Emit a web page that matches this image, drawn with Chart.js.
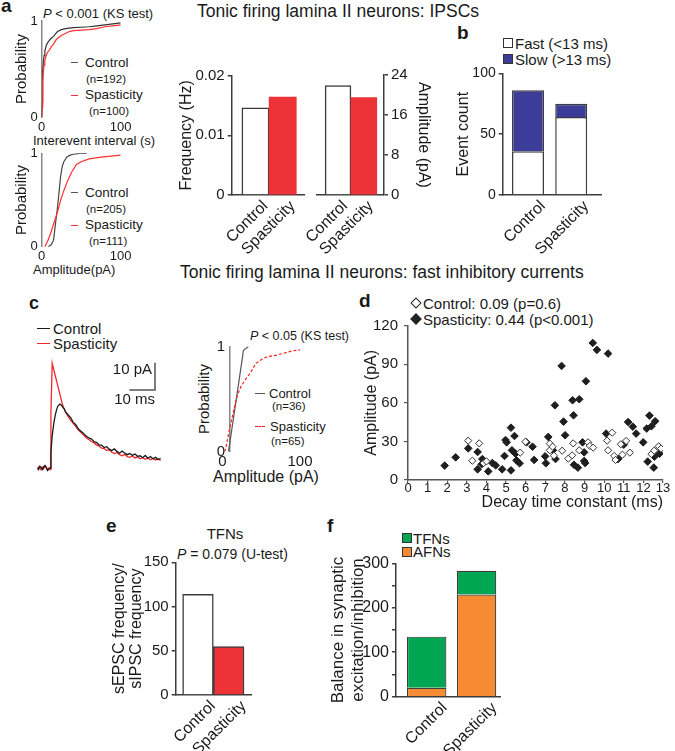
<!DOCTYPE html>
<html>
<head>
<meta charset="utf-8">
<script src="https://cdn.jsdelivr.net/npm/chart.js@4.4.1/dist/chart.umd.min.js"></script>
<style>
html, body { margin: 0; padding: 0; background: #fff; }
#fig { position: relative; width: 675px; height: 751px; overflow: hidden; font-family: 'Liberation Sans', Arial, sans-serif; color: #1a1a1a; }
#fig canvas { position: absolute; left: 0; top: 0; }
.t { position: absolute; white-space: nowrap; line-height: 1; transform: translateY(-50%); }
.c { transform: translate(-50%, -50%); }
.k { font-weight: bold; font-size: 19px; }
.dash { position: absolute; height: 0; border-top: 1.5px solid; }
.sq { position: absolute; width: 8px; height: 8px; border: 1px solid #333; }
.dm { position: absolute; width: 6px; height: 6px; border: 1px solid #222; transform: rotate(45deg); }
</style>
</head>
<body>
<div id="fig">
  <!-- panel a -->
  <div class="t k" style="left:1px;top:5px">a</div>
  <div class="t" style="left:43px;top:12.5px;font-size:13px"><i>P</i> &lt; 0.001 (KS test)</div>
  <div class="dash" style="left:71px;top:62px;width:7px;border-color:#555"></div>
  <div class="t" style="left:85px;top:62.5px;font-size:13.5px">Control</div>
  <div class="t" style="left:86px;top:79.5px;font-size:11.5px">(n=192)</div>
  <div class="dash" style="left:71px;top:94.5px;width:7px;border-color:#ff3030"></div>
  <div class="t" style="left:85px;top:94.7px;font-size:13.5px">Spasticity</div>
  <div class="t" style="left:89px;top:111.7px;font-size:11.5px">(n=100)</div>
  <div class="t" style="left:33px;top:139.5px;font-size:13px">Interevent interval (s)</div>
  <div class="dash" style="left:71px;top:192px;width:7px;border-color:#555"></div>
  <div class="t" style="left:85px;top:192.5px;font-size:13.5px">Control</div>
  <div class="t" style="left:86px;top:209.5px;font-size:11.5px">(n=205)</div>
  <div class="dash" style="left:71px;top:224.5px;width:7px;border-color:#ff3030"></div>
  <div class="t" style="left:85px;top:224.7px;font-size:13.5px">Spasticity</div>
  <div class="t" style="left:89px;top:241.7px;font-size:11.5px">(n=111)</div>
  <div class="t" style="left:33px;top:269px;font-size:13px">Amplitude(pA)</div>
  <div class="t c" style="left:338px;top:12px;font-size:17.5px">Tonic firing lamina II neurons: IPSCs</div>

  <!-- panel b -->
  <div class="t k" style="left:457px;top:32px">b</div>
  <div class="sq" style="left:503px;top:38px;background:#fff"></div>
  <div class="t" style="left:515px;top:43px;font-size:15px">Fast (&lt;13 ms)</div>
  <div class="sq" style="left:503px;top:54px;background:#3b3d98"></div>
  <div class="t" style="left:515px;top:59px;font-size:15px">Slow (&gt;13 ms)</div>

  <div class="t" style="left:180px;top:273px;font-size:17.5px">Tonic firing lamina II neurons: fast inhibitory currents</div>

  <!-- panel c -->
  <div class="t k" style="left:29px;top:302.6px;font-size:18px">c</div>
  <div class="dash" style="left:37px;top:327.5px;width:13px;border-color:#1a1a1a"></div>
  <div class="t" style="left:53px;top:328px;font-size:15px">Control</div>
  <div class="dash" style="left:37px;top:342.5px;width:13px;border-color:#f0282d"></div>
  <div class="t" style="left:53px;top:343px;font-size:15px">Spasticity</div>
  <div class="t" style="left:250px;top:336px;font-size:12.5px"><i>P</i> &lt; 0.05 (KS test)</div>
  <div class="t c" style="left:203px;top:399px;font-size:15px;transform:translate(-50%,-50%) rotate(-90deg)">Probability</div>
  <div class="dash" style="left:255px;top:392.5px;width:10px;border-color:#555"></div>
  <div class="t" style="left:269px;top:393px;font-size:13px">Control</div>
  <div class="t" style="left:272px;top:407px;font-size:11.5px">(n=36)</div>
  <div class="dash" style="left:255px;top:425.5px;width:10px;border-color:#ff2020;border-top-style:dashed"></div>
  <div class="t" style="left:270px;top:426px;font-size:13px">Spasticity</div>
  <div class="t" style="left:271px;top:442px;font-size:11.5px">(n=65)</div>
  <div class="t c" style="left:266px;top:477px;font-size:16px">Amplitude (pA)</div>

  <!-- panel d -->
  <div class="t k" style="left:359px;top:300px">d</div>
  <div class="dm" style="left:412px;top:299px;background:#fff"></div>
  <div class="t" style="left:423px;top:303px;font-size:15px">Control: 0.09 (p=0.6)</div>
  <div class="dm" style="left:412px;top:315px;background:#222"></div>
  <div class="t" style="left:423px;top:319px;font-size:15px">Spasticity: 0.44 (p&lt;0.001)</div>

  <!-- panel e -->
  <div class="t k" style="left:106px;top:525px">e</div>
  <div class="t c" style="left:225px;top:533px;font-size:15px">TFNs</div>
  <div class="t" style="left:177px;top:554px;font-size:14px"><i>P</i> = 0.079 (U-test)</div>

  <!-- panel f -->
  <div class="t k" style="left:327px;top:525px">f</div>
  <div class="sq" style="left:402px;top:533px;background:#00a651"></div>
  <div class="t" style="left:413px;top:537.7px;font-size:15px">TFNs</div>
  <div class="sq" style="left:402px;top:546.5px;background:#f68b33"></div>
  <div class="t" style="left:413px;top:551px;font-size:15px">AFNs</div>
</div>

<script>
const W = 675, H = 751;
const groups = ['Control', 'Spasticity'];

// a: cumulative probability, interevent interval (s)
const ieiX = [0, 0.5, 1, 1.5, 2, 3, 4, 5, 6, 8, 10, 12, 15, 18, 20, 25, 30, 35, 40, 50, 60, 70, 80, 90, 100];
const ieiCtrlP = [0, 0.15, 0.33, 0.47, 0.56, 0.64, 0.69, 0.72, 0.75, 0.78, 0.8, 0.82, 0.84, 0.87, 0.89, 0.91, 0.92, 0.925, 0.93, 0.935, 0.94, 0.95, 0.96, 0.97, 0.98];
const ieiSpastP = [0, 0.1, 0.25, 0.37, 0.46, 0.54, 0.59, 0.62, 0.65, 0.68, 0.7, 0.73, 0.76, 0.8, 0.82, 0.85, 0.87, 0.89, 0.9, 0.905, 0.91, 0.92, 0.94, 0.95, 0.96];

// a: cumulative probability, amplitude (pA)
const ampCtrlX = [8, 12, 15, 17.5, 19.6, 21.8, 23.9, 26, 28, 32, 36, 40, 48, 57];
const ampCtrlP = [0, 0.02, 0.07, 0.25, 0.39, 0.57, 0.75, 0.86, 0.91, 0.96, 0.98, 0.99, 1, 1];
const ampSpastX = [4, 8, 12, 16, 20, 24, 28, 33, 38, 44, 50, 60, 75, 100];
const ampSpastP = [0, 0.07, 0.16, 0.27, 0.37, 0.5, 0.6, 0.71, 0.8, 0.88, 0.91, 0.94, 0.96, 0.98];

// a: IPSC bars
const ipscFreq = [0.0146, 0.0164];
const ipscAmp = [21.9, 19.5];

// b: event counts
const fastCount = [36, 64];
const slowCount = [50, 11];

// c: averaged traces (ms, pA)
const traceT = [0, 0.5, 1, 1.5, 2, 2.5, 3, 3.5, 4, 4.5, 5, 5.3, 5.8, 6.5, 7, 7.5, 8, 8.8, 9.5, 10, 10.5, 11, 11.5, 12, 13, 14, 15, 16, 17, 18, 19, 20, 21, 22, 23, 24, 25, 26, 27, 28, 29, 30, 31, 32, 33, 34, 35, 36, 37, 38, 39, 40, 41, 42, 43, 44, 45, 46, 47, 48];
const traceCtrl = [0.2, -0.5, 0.8, 0.3, -0.4, 0.6, 1.0, 0.2, -0.8, -0.3, 0.2, 6, 12, 17, 19.5, 21.5, 22.8, 23.5, 23, 22.2, 21.8, 20.5, 20.2, 19.5, 18.6, 16.8, 16, 14.4, 13.6, 12.8, 11.8, 11.2, 10.8, 9.8, 9.5, 8.6, 8.5, 7.6, 7.9, 7.0, 6.5, 7.1, 6.2, 5.5, 6.3, 5.6, 5.0, 5.4, 4.8, 5.2, 4.4, 4.6, 3.9, 4.7, 3.7, 4.3, 3.5, 4.0, 3.2, 3.6];
const traceSpast = [-0.3, 0.5, 0.2, -0.6, 0.4, -0.2, 0.9, 0.5, -0.5, 0.1, -0.5, 20, 38.5, 35.8, 33.9, 32.0, 30.1, 27.1, 24.4, 22.8, 21.6, 20.8, 19.8, 19.0, 17.6, 16.5, 15.3, 14.0, 13.1, 12.2, 11.2, 10.6, 9.8, 9.4, 8.6, 8.2, 7.4, 7.2, 6.6, 6.8, 5.9, 5.4, 5.8, 5.0, 4.6, 5.1, 4.3, 4.0, 4.5, 3.8, 4.2, 3.5, 3.9, 3.3, 3.8, 3.1, 3.6, 3.0, 3.4, 2.9];
const barCorner = [45.8, 28.7];   // ms, pA
const barSize = [10, 10];         // ms, pA

// c: cumulative probability of fast currents
const fastCtrlX = [8, 10, 12, 14, 16, 18, 20, 22, 24, 26, 27, 28, 30, 33.5];
const fastCtrlP = [0, 0.1, 0.2, 0.3, 0.4, 0.5, 0.6, 0.7, 0.8, 0.9, 0.96, 0.97, 0.98, 1];
const fastSpastX = [3, 5, 8, 11, 14, 17, 20, 24, 29, 33, 36, 40, 43, 47, 51, 56, 62, 70, 80, 90, 100];
const fastSpastP = [0, 0.05, 0.17, 0.27, 0.37, 0.47, 0.55, 0.62, 0.68, 0.72, 0.75, 0.8, 0.84, 0.86, 0.88, 0.9, 0.91, 0.92, 0.94, 0.96, 0.97];

// d: decay time constant (ms) vs amplitude (pA)
const ctrlDecay = [3.07, 3.28, 3.63, 3.85, 4.0, 5.72, 5.99, 7.23, 7.23, 7.37, 7.44, 7.86, 8.17, 8.37, 8.42, 8.73, 9.18, 9.27, 9.44, 10.15, 10.2, 10.41, 10.51, 10.58, 10.85, 10.93, 11.12, 11.31, 12.41, 12.55, 12.78, 12.9];
const ctrlAmp = [30.6, 15.0, 28.5, 13.2, 14.5, 21.3, 29.8, 23.1, 28.3, 25.9, 18.9, 22.8, 16.6, 19.2, 28.5, 23.1, 29.3, 26.5, 25.2, 30.6, 23.1, 36.8, 18.7, 15.6, 27.8, 19.7, 30.4, 21.3, 20.2, 22.8, 26.2, 24.4];
const spastDecay = [1.87, 2.43, 3.07, 3.55, 3.55, 3.79, 3.75, 4.09, 4.3, 4.47, 4.8, 4.92, 4.97, 5.03, 5.25, 5.25, 5.3, 5.43, 5.48, 5.53, 5.69, 6.04, 6.35, 6.43, 6.99, 7.03, 7.15, 7.39, 7.52, 7.49, 7.83, 7.93, 8.01, 8.39, 8.44, 8.46, 8.66, 8.73, 8.9, 8.98, 8.98, 9.07, 9.03, 9.42, 9.63, 10.2, 10.1, 10.71, 11.0, 11.22, 11.46, 11.63, 11.99, 12.17, 12.22, 12.31, 12.41, 12.6, 12.56, 12.53, 12.82];
const spastAmp = [11.2, 17.6, 24.6, 21.8, 8.3, 16.3, 12.2, 6.7, 13.2, 11.4, 8.3, 18.7, 31.1, 29.3, 40.7, 7.5, 23.1, 34.2, 20.5, 15.3, 13.0, 29.3, 25.9, 15.6, 18.4, 13.0, 33.5, 23.1, 16.3, 58.1, 88.7, 45.4, 34.8, 62.0, 50.3, 11.9, 9.6, 62.8, 29.3, 21.5, 14.8, 76.8, 13.2, 106.6, 101.2, 98.3, 36.1, 16.3, 27.5, 45.1, 41.5, 36.1, 29.3, 40.0, 14.3, 50.1, 41.8, 45.7, 18.2, 9.6, 20.5];

// e: sEPSC / sIPSC frequency ratio (TFNs)
const ratioTFN = [113.8, 54.6];

// f: balance, stacked
const afnBalance = [20, 230];
const tfnBalance = [115, 53];

const RED = '#ee3338', BLUE = '#3b3d98', GREEN = '#00a651', ORANGE = '#f68b33';
const AX = '#3c3c3c', INK = '#1a1a1a';

Chart.defaults.font.family = "'Liberation Sans', Arial, sans-serif";
Chart.defaults.color = INK;
Chart.defaults.animation = false;
Chart.defaults.responsive = false;
Chart.defaults.plugins.legend.display = false;
Chart.defaults.plugins.tooltip.enabled = false;
Chart.defaults.elements.point.radius = 0;

const fig = document.getElementById('fig');
function addChart(cfg) {
  const cv = document.createElement('canvas');
  cv.width = W; cv.height = H;
  fig.appendChild(cv);
  return new Chart(cv, cfg);
}
function zeroPad(s) { s.paddingLeft = s.paddingRight = s.paddingTop = s.paddingBottom = 0; }
const fixW = w => s => { s.width = w; zeroPad(s); };
const fixH = h => s => { s.height = h; zeroPad(s); };
// layout padding so the plot area lands on l..r, t..b
function area(l, t, r, b, yW, xH, right) {
  return { padding: right
    ? { left: l, top: t, right: W - r - yW, bottom: H - b - xH }
    : { left: l - yW, top: t, right: W - r, bottom: H - b - xH } };
}
const font = (size, lh) => ({ size, lineHeight: lh || 1 });
const pts = (xs, ys) => xs.map((x, i) => ({ x, y: ys[i] }));
const pos = groups.map((g, i) => i + 1);
const noGrid = { display: false, drawTicks: false };

function cdfLine(xs, ys, color, dash) {
  return { data: pts(xs, ys), borderColor: color, borderWidth: 1.2, borderDash: dash || [], tension: 0 };
}

// ---- a: two cumulative plots
function cdfChart(l, t, r, b, sets) {
  addChart({
    type: 'line',
    data: { datasets: sets },
    options: {
      layout: area(l, t, r, b, 27.7, 30),
      scales: {
        x: { type: 'linear', min: 0, max: 100, afterFit: fixH(30),
             ticks: { stepSize: 100, font: font(13), padding: 3.5, maxRotation: 0 },
             grid: noGrid, border: { display: false } },
        y: { min: 0, max: 1, afterFit: fixW(27.7),
             ticks: { stepSize: 1, font: font(13), padding: 4 },
             grid: noGrid, border: { color: '#888', width: 1.5 },
             title: { display: true, text: 'Probability', font: font(15), padding: 0 } }
      }
    }
  });
}
cdfChart(41.7, 21, 120.7, 117, [cdfLine(ieiX, ieiSpastP, '#ff3030'), cdfLine(ieiX, ieiCtrlP, '#333')]);
cdfChart(41.7, 153.3, 120.7, 246.7, [cdfLine(ampSpastX, ampSpastP, '#ff3030'), cdfLine(ampCtrlX, ampCtrlP, '#444')]);

// ---- bar charts with Control / Spasticity along a linear x
function groupAxis(min, max, shift, stacked) {
  return {
    type: 'linear', min, max, offset: false, stacked: !!stacked, afterFit: fixH(60),
    afterBuildTicks: s => { s.ticks = pos.map(v => ({ value: v })); },
    ticks: { callback: v => groups[v - 1], minRotation: 45, maxRotation: 45, autoSkip: false, font: font(16), padding: 3, labelOffset: shift },
    grid: noGrid, border: { color: AX, width: 1.5 }
  };
}
function valueAxis(max, step, size, yW, title, extra) {
  return Object.assign({
    min: 0, max, afterFit: fixW(yW),
    ticks: { stepSize: step, font: font(size), padding: 3 },
    grid: { drawOnChartArea: false, tickLength: 4, color: AX, lineWidth: 1.5 },
    border: { color: AX, width: 1.5 },
    title: { display: true, text: title, font: font(16), padding: 0 }
  }, extra);
}

addChart({
  type: 'bar',
  data: { datasets: [{ data: pts(pos, ipscFreq), backgroundColor: ['#fff', RED], borderColor: [AX, RED], borderWidth: [1.5, 0], barPercentage: 1, categoryPercentage: 1 }] },
  options: {
    layout: area(231.7, 75.7, 305, 195, 53.2, 60),
    scales: { x: groupAxis(0.125, 2.82, 10), y: valueAxis(0.02, 0.01, 15, 53.2, 'Frequency (Hz)') }
  }
});

addChart({
  type: 'bar',
  data: { datasets: [{ data: pts(pos, ipscAmp), backgroundColor: ['#fff', RED], borderColor: [AX, RED], borderWidth: [1.5, 0], barPercentage: 1, categoryPercentage: 1 }] },
  options: {
    layout: area(316.7, 75, 384, 195, 47.3, 60, true),
    scales: { x: groupAxis(0.174, 2.78, 7), y: valueAxis(24, 8, 15, 47.3, 'Amplitude (pA)', { position: 'right' }) }
  }
});

addChart({
  type: 'bar',
  data: { datasets: [
    { data: pts(pos, fastCount), backgroundColor: '#fff', borderColor: AX, borderWidth: 1.5, barPercentage: 0.74, categoryPercentage: 1 },
    { data: pts(pos, slowCount), backgroundColor: BLUE, borderColor: AX, borderWidth: 1.5, barPercentage: 0.74, categoryPercentage: 1 }
  ] },
  options: {
    layout: area(502.7, 73.3, 601.7, 195, 46.7, 60),
    scales: { x: groupAxis(0.414, 2.706, 15, true), y: valueAxis(100, 50, 14, 46.7, 'Event count', { stacked: true }) }
  }
});

// ---- c: traces with scale bar
const scaleBar = {
  id: 'scaleBar',
  afterDatasetsDraw(chart) {
    const { ctx, scales: { x, y } } = chart;
    const cx = x.getPixelForValue(barCorner[0]), cy = y.getPixelForValue(barCorner[1]);
    const lx = x.getPixelForValue(barCorner[0] - barSize[0]), ty = y.getPixelForValue(barCorner[1] + barSize[1]);
    ctx.save();
    ctx.strokeStyle = '#555'; ctx.lineWidth = 1.5;
    ctx.beginPath(); ctx.moveTo(lx, cy); ctx.lineTo(cx, cy); ctx.lineTo(cx, ty); ctx.stroke();
    ctx.fillStyle = INK; ctx.font = "15px 'Liberation Sans', Arial, sans-serif";
    ctx.textAlign = 'right'; ctx.textBaseline = 'middle';
    ctx.fillText(barSize[1] + ' pA', cx - 3, ty + 7);
    ctx.fillText(barSize[0] + ' ms', cx, cy + 10);
    ctx.restore();
  }
};
addChart({
  type: 'line',
  data: { datasets: [
    { data: pts(traceT, traceCtrl), borderColor: '#1a1a1a', borderWidth: 1.3, tension: 0 },
    { data: pts(traceT, traceSpast), borderColor: '#f0282d', borderWidth: 1.3, tension: 0 }
  ] },
  options: {
    layout: { padding: { left: 37.3, top: 359.1, right: W - 165.8, bottom: H - 476.5 } },
    scales: { x: { type: 'linear', min: 0, max: 50, display: false }, y: { min: -3, max: 40, display: false } }
  },
  plugins: [scaleBar]
});

// ---- c: cumulative probability of fast currents
addChart({
  type: 'line',
  data: { datasets: [cdfLine(fastSpastX, fastSpastP, '#ff2020', [3, 2]), cdfLine(fastCtrlX, fastCtrlP, '#555')] },
  options: {
    layout: { padding: { left: 222.3, top: 346.7, right: W - 300, bottom: H - 451.7 - 30 } },
    scales: {
      x: { type: 'linear', min: 0, max: 100, afterFit: fixH(30),
           ticks: { stepSize: 100, font: font(15), padding: 2.5, maxRotation: 0 },
           grid: noGrid, border: { display: false } },
      y: { position: { x: 9 }, min: 0, max: 1,
           ticks: { stepSize: 1, font: font(15), callback: v => v + ' ' },
           grid: noGrid, border: { color: '#888', width: 1.5 } }
    }
  }
});

// ---- d: scatter
addChart({
  type: 'scatter',
  data: { datasets: [
    { data: pts(ctrlDecay, ctrlAmp), pointStyle: 'rectRot', pointRadius: 3.6, backgroundColor: '#fff', borderColor: '#333', borderWidth: 1 },
    { data: pts(spastDecay, spastAmp), pointStyle: 'rectRot', pointRadius: 3.8, backgroundColor: '#1e1e1e', borderColor: '#1e1e1e', borderWidth: 1 }
  ] },
  options: {
    layout: area(408, 325.7, 663, 480, 44, 31),
    scales: {
      x: { type: 'linear', min: 0, max: 13, afterFit: fixH(31),
           ticks: { stepSize: 1, font: font(13), padding: -1, maxRotation: 0, autoSkip: false },
           grid: { drawOnChartArea: false, tickLength: 3, color: '#555', lineWidth: 1.2 },
           border: { color: '#555', width: 1.5 },
           title: { display: true, text: 'Decay time constant (ms)', align: 'end', font: font(16), padding: 0 } },
      y: { min: 0, max: 120, afterFit: fixW(44),
           ticks: { stepSize: 30, font: font(15), padding: 6 },
           grid: { drawOnChartArea: false, tickLength: 4, color: '#555', lineWidth: 1.2 },
           border: { color: '#555', width: 1.5 },
           title: { display: true, text: 'Amplitude (pA)', font: font(16), padding: 0 } }
    }
  }
});

// ---- e: ratio bars
addChart({
  type: 'bar',
  data: { datasets: [{ data: pts(pos, ratioTFN), backgroundColor: ['#fff', RED], borderColor: AX, borderWidth: 1.5, barPercentage: 1, categoryPercentage: 1 }] },
  options: {
    layout: area(175.7, 562.3, 252, 695, 64.1, 60),
    scales: {
      x: groupAxis(0.274, 2.76, 15),
      y: valueAxis(150, 50, 15, 64.1, '', { title: { display: true, text: ['sEPSC frequency/', 'sIPSC frequency'], font: font(16, 1.05), padding: 0 } })
    }
  }
});

// ---- f: stacked balance
addChart({
  type: 'bar',
  data: { datasets: [
    { data: pts(pos, afnBalance), backgroundColor: ORANGE, borderColor: AX, borderWidth: 1.2, barPercentage: 0.79, categoryPercentage: 1 },
    { data: pts(pos, tfnBalance), backgroundColor: GREEN, borderColor: AX, borderWidth: 1.2, barPercentage: 0.79, categoryPercentage: 1 }
  ] },
  options: {
    layout: area(396, 563.3, 500, 696.7, 68, 60),
    scales: {
      x: groupAxis(0.384, 2.47, 18, true),
      y: valueAxis(300, 50, 16, 68, '', {
        stacked: true,
        ticks: { stepSize: 50, font: font(16), padding: 3, callback: v => (v % 100 === 0 ? v : '') },
        title: { display: true, text: ['Balance in synaptic', 'excitation/inhibition'], font: font(17, 1.18), padding: 0 }
      })
    }
  }
});
</script>
</body>
</html>
